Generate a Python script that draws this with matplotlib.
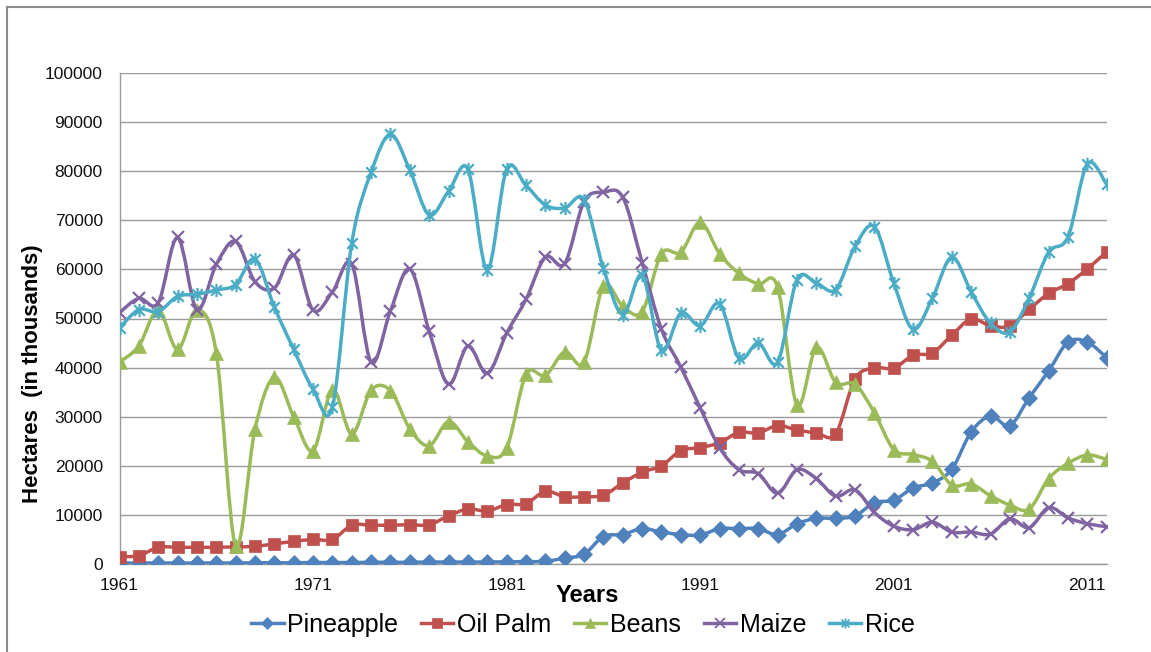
import numpy as np
import matplotlib
matplotlib.use("Agg")
import matplotlib.pyplot as plt
from matplotlib.path import Path
from matplotlib.patches import PathPatch
from matplotlib.lines import Line2D

# Harvested area per crop, 1961-2012 (hectares, in thousands)
years = list(range(1961, 2013))

pineapple = [200, 200, 200, 200, 200, 200, 200, 250, 250, 250,
             300, 300, 300, 350, 350, 350, 400, 400, 400, 400,
             450, 500, 550, 1200, 2000, 5600, 6000, 7200, 6500, 6000,
             5900, 7200, 7200, 7200, 6000, 8200, 9300, 9300, 9800, 12500,
             13000, 15500, 16500, 19300, 26900, 30100, 28200, 33900, 39300, 45200,
             45200, 42000]

oil_palm = [1500, 1700, 3400, 3400, 3400, 3400, 3500, 3600, 4100, 4600,
            5000, 5000, 7900, 7900, 7900, 8000, 8000, 9800, 11200, 10800,
            12100, 12300, 14800, 13700, 13700, 14000, 16500, 18700, 20000, 23100,
            23700, 24700, 26800, 26700, 28200, 27300, 26700, 26500, 37700, 39900,
            39900, 42500, 43000, 46600, 49900, 48500, 48500, 51900, 55100, 57100,
            60100, 63600]

beans = [41100, 44400, 51700, 43700, 51800, 43000, 3700, 27500, 38000, 30000,
         23100, 35500, 26500, 35400, 35300, 27500, 24100, 29000, 24900, 22000,
         23600, 38600, 38400, 43200, 41100, 56600, 52500, 51400, 63200, 63500,
         69600, 63200, 59200, 57000, 56400, 32400, 44100, 37000, 36600, 30800,
         23300, 22300, 20900, 16100, 16300, 13900, 12000, 11200, 17400, 20500,
         22200, 21300]

maize = [51200, 54100, 53200, 66500, 51800, 61000, 65700, 57500, 56200, 62900,
         51700, 55400, 61100, 41100, 51600, 60100, 47400, 36600, 44400, 38800,
         47000, 53900, 62500, 61200, 73800, 75700, 74700, 61400, 47800, 40100,
         31800, 23700, 19200, 18400, 14400, 19200, 17400, 13800, 15100, 10500,
         7700, 7000, 8500, 6500, 6500, 6100, 9200, 7400, 11500, 9400,
         8200, 7600]

rice = [48100, 51800, 51400, 54500, 54900, 55800, 56900, 62100, 52300, 43700,
        35600, 32000, 65400, 79800, 87500, 80200, 71100, 75900, 80400, 59900,
        80400, 77100, 73100, 72500, 74200, 60200, 50800, 58800, 43500, 51100,
        48500, 53000, 41900, 45000, 41100, 57900, 57200, 55900, 64700, 68700,
        57200, 47800, 54200, 62500, 55400, 49000, 47300, 54200, 63500, 66600,
        81500, 77300]

x_ticks = [1961, 1971, 1981, 1991, 2001, 2011]

plt.rcParams["font.family"] = "Liberation Sans"


def smooth_curve(x, y):
    # Bezier path through every point (Catmull-Rom style control points)
    pts = np.column_stack([x, y]).astype(float)
    padded = np.vstack([pts[0], pts, pts[-1]])
    verts = [pts[0]]
    codes = [Path.MOVETO]
    for i in range(len(pts) - 1):
        p0, p1, p2, p3 = padded[i], padded[i + 1], padded[i + 2], padded[i + 3]
        verts += [p1 + (p2 - p0) / 6, p2 - (p3 - p1) / 6, p2]
        codes += [Path.CURVE4] * 3
    return Path(verts, codes)


# x plus a vertical bar
star = Path([(-1, -1), (1, 1), (-1, 1), (1, -1), (0, -1.25), (0, 1.25)],
            [Path.MOVETO, Path.LINETO] * 3)

series = [
    ("Pineapple", pineapple, "#4F81BD", "D", 8.5),
    ("Oil Palm", oil_palm, "#C0504D", "s", 9),
    ("Beans", beans, "#9BBB59", "^", 10),
    ("Maize", maize, "#8064A2", "x", 9),
    ("Rice", rice, "#4BACC6", star, 9.5),
]

W, H = 1151, 652
fig = plt.figure(figsize=(W / 100, H / 100), dpi=100)
ax = fig.add_axes([119.5 / W, 1 - 564 / H, (1106.7 - 119.5) / W, (564 - 73) / H])

handles = []
for i, (name, vals, color, marker, ms) in enumerate(series):
    ax.add_patch(PathPatch(smooth_curve(years, vals), facecolor="none",
                           edgecolor=color, lw=2.5, zorder=3 + i))
    open_marker = marker == "x" or marker is star
    ax.plot(years, vals, linestyle="none", marker=marker, markersize=ms,
            color=color, markeredgecolor=color,
            markeredgewidth=1.6 if open_marker else 0.5, zorder=3 + i)
    handles.append(Line2D([0], [0], color=color, lw=2.5, marker=marker,
                          markersize=ms * 0.75, markeredgecolor=color,
                          markeredgewidth=1.3 if open_marker else 0.5))

ax.set_xlim(1961, 2012)
ax.set_ylim(0, 100000)
ax.set_xticks(x_ticks)
ax.set_yticks(range(0, 100001, 10000))
ax.tick_params(axis="both", length=0, labelsize=12.5, labelcolor="#111111")
ax.tick_params(axis="y", pad=12)
ax.tick_params(axis="x", pad=10)

ax.grid(axis="y", color="#9a9a9a", lw=1)
ax.set_axisbelow(True)
for side in ("top", "right"):
    ax.spines[side].set_visible(False)
for side in ("left", "bottom"):
    ax.spines[side].set_color("#9a9a9a")
    ax.spines[side].set_linewidth(1)

fig.text(33 / W, 1 - 374 / H, "Hectares  (in thousands)", rotation=90,
         ha="center", va="center", fontsize=16, fontweight="bold")
fig.text(587 / W, 1 - 596 / H, "Years", ha="center", va="center",
         fontsize=17, fontweight="bold")

fig.legend(handles, [s[0] for s in series], loc="center",
           bbox_to_anchor=(583 / W, 1 - 625 / H), ncol=5, frameon=False,
           fontsize=18, handlelength=1.3, handletextpad=0.15, columnspacing=0.9)

# chart area border
fig.add_artist(Line2D([7 / W, 7 / W], [0, 1 - 7 / H], transform=fig.transFigure,
                      color="#8c8c8c", lw=1.5))
fig.add_artist(Line2D([7 / W, 1], [1 - 7 / H, 1 - 7 / H], transform=fig.transFigure,
                      color="#8c8c8c", lw=1.5))

fig.savefig("out.png", dpi=100)
